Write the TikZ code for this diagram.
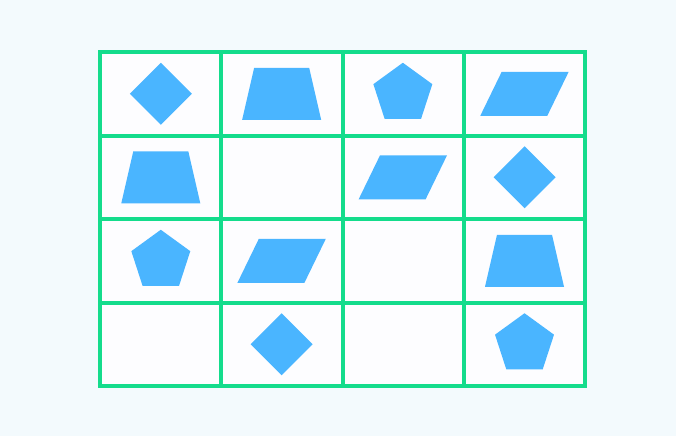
\documentclass[tikz,border=0pt]{standalone}
\usepackage{tikz}
\usetikzlibrary{calc}
\definecolor{bgc}{HTML}{F3FAFD}
\definecolor{cellc}{HTML}{FDFDFF}
\definecolor{gridc}{HTML}{14DC8C}
\definecolor{shapec}{HTML}{4AB5FF}
\tikzset{
  gridline/.style={draw=gridc, line width=4pt},
  shapefill/.style={fill=shapec, draw=none},
}
\newcommand{\shpdiamond}[2]{\fill[shapefill] (#1-31,#2) -- (#1,#2-31) -- (#1+31,#2) -- (#1,#2+31) -- cycle;}
\newcommand{\shptrap}[2]{\fill[shapefill] (#1-27.5,#2-26) -- (#1+27.5,#2-26) -- (#1+39.5,#2+26) -- (#1-39.5,#2+26) -- cycle;}
\newcommand{\shppent}[2]{\fill[shapefill] ($(#1,#2)+(-90:31)$) -- ($(#1,#2)+(-18:31)$) -- ($(#1,#2)+(54:31)$) -- ($(#1,#2)+(126:31)$) -- ($(#1,#2)+(198:31)$) -- cycle;}
\newcommand{\shppara}[2]{\fill[shapefill] (#1-22.8,#2-22) -- (#1+44.2,#2-22) -- (#1+22.8,#2+22) -- (#1-44.2,#2+22) -- cycle;}
\begin{document}
\begin{tikzpicture}[x=1pt,y=-1pt]
\useasboundingbox (0,0) rectangle (676,436);
\fill[bgc] (0,0) rectangle (676,436);
\fill[cellc] (100.3,52) rectangle (585.3,386);
% row 0
\shpdiamond{160.8}{93.75}
\shptrap{281.65}{93.75}
\shppent{402.85}{93.75}
\shppara{524.5}{93.75}
% row 1
\shptrap{160.8}{177.25}
\shppara{402.85}{177.25}
\shpdiamond{524.5}{177.25}
% row 2
\shppent{160.8}{260.75}
\shppara{281.65}{260.75}
\shptrap{524.5}{260.75}
% row 3
\shpdiamond{281.65}{344.25}
\shppent{524.5}{344.25}
% grid
\draw[gridline] (100.3,52) rectangle (585.3,386);
\foreach \x in {221.3,342.55,463.8}{\draw[gridline] (\x,52) -- (\x,386);}
\foreach \y in {135.5,219,302.5}{\draw[gridline] (100.3,\y) -- (585.3,\y);}
\end{tikzpicture}
\end{document}
